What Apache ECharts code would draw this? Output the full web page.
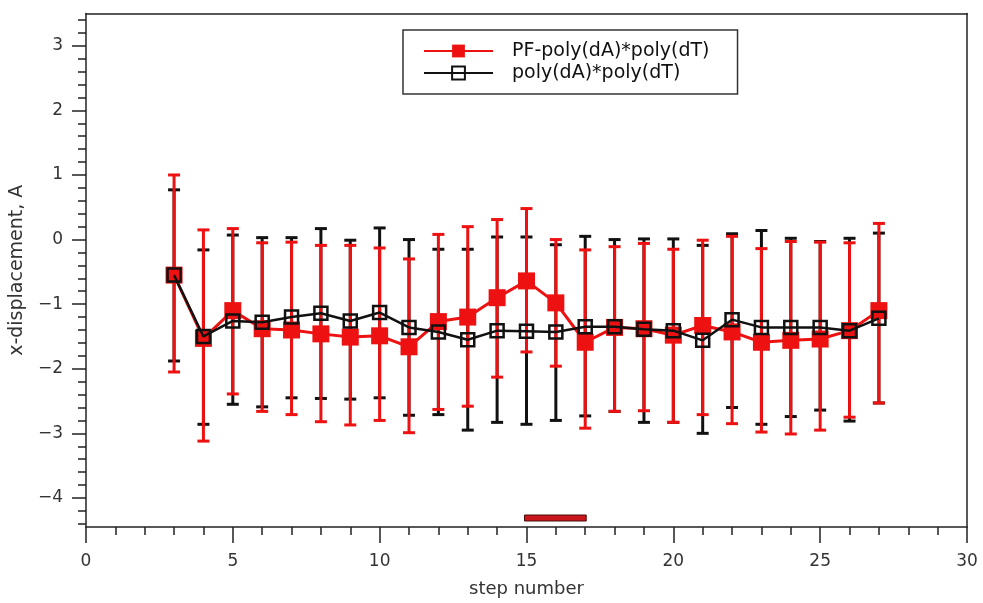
<!DOCTYPE html>
<html>
<head>
<meta charset="utf-8">
<script src="https://cdn.jsdelivr.net/npm/echarts@6/dist/echarts.min.js"></script>
<style>html,body{margin:0;padding:0;background:#fff;}#chart{width:983px;height:603px;}</style>
</head>
<body>
<div id="chart"></div>
<script>
// ---- data ----
const steps = [3,4,5,6,7,8,9,10,11,12,13,14,15,16,17,18,19,20,21,22,23,24,25,26,27];
const pfMean  = [-0.55,-1.53,-1.10,-1.38,-1.40,-1.46,-1.51,-1.49,-1.66,-1.27,-1.20,-0.90,-0.64,-0.98,-1.59,-1.36,-1.38,-1.48,-1.33,-1.43,-1.59,-1.56,-1.54,-1.41,-1.10];
const pfUpper = [1.00,0.15,0.17,-0.05,-0.04,-0.09,-0.09,-0.13,-0.30,0.08,0.20,0.31,0.48,0.00,-0.16,-0.11,-0.06,-0.15,-0.01,0.05,-0.14,-0.03,-0.04,-0.05,0.25];
const pfLower = [-2.05,-3.12,-2.39,-2.66,-2.71,-2.82,-2.87,-2.80,-2.99,-2.63,-2.58,-2.13,-1.74,-1.96,-2.92,-2.66,-2.65,-2.83,-2.71,-2.85,-2.98,-3.01,-2.95,-2.75,-2.53];
const refMean  = [-0.55,-1.50,-1.26,-1.28,-1.20,-1.14,-1.26,-1.13,-1.36,-1.43,-1.55,-1.41,-1.42,-1.43,-1.35,-1.35,-1.39,-1.41,-1.56,-1.24,-1.36,-1.36,-1.36,-1.41,-1.22];
const refUpper = [0.77,-0.16,0.07,0.03,0.03,0.17,-0.01,0.18,0.00,-0.15,-0.15,0.04,0.04,-0.08,0.05,0.00,0.01,0.01,-0.09,0.09,0.14,0.02,-0.03,0.02,0.10];
const refLower = [-1.88,-2.86,-2.55,-2.59,-2.45,-2.46,-2.47,-2.45,-2.72,-2.71,-2.95,-2.83,-2.86,-2.80,-2.73,-2.66,-2.83,-2.83,-3.00,-2.60,-2.86,-2.74,-2.64,-2.81,-2.53];
const highlightSpan = [15, 17];
const xTickLabels = [0,5,10,15,20,25,30];
const yTickLabels = [-4,-3,-2,-1,0,1,2,3];
const yMinorTicks = [];
for (let v = -44; v <= 34; v += 2) yMinorTicks.push(v / 10);

const seriesNames = ['PF-poly(dA)*poly(dT)', 'poly(dA)*poly(dT)'];
const RED = '#ee1111';
const BLACK = '#111111';
const Y_MIN = -4.45, Y_MAX = 3.5;
const FONT = 'DejaVu Sans, sans-serif';

function errRender(color) {
  return function (params, api) {
    const x = api.value(0);
    const top = api.coord([x, api.value(1)]);
    const bot = api.coord([x, api.value(2)]);
    const hw = 6;
    const style = { stroke: color, lineWidth: 3 };
    return {
      type: 'group',
      children: [
        { type: 'line', shape: { x1: top[0], y1: top[1], x2: bot[0], y2: bot[1] }, style },
        { type: 'line', shape: { x1: top[0] - hw, y1: top[1], x2: top[0] + hw, y2: top[1] }, style },
        { type: 'line', shape: { x1: bot[0] - hw, y1: bot[1], x2: bot[0] + hw, y2: bot[1] }, style }
      ]
    };
  };
}

const chart = echarts.init(document.getElementById('chart'), null, { renderer: 'canvas' });
const axisLineStyle = { color: '#222', width: 1.5 };
const tickFont = { fontFamily: FONT, fontSize: 17, color: '#333' };

chart.setOption({
  animation: false,
  backgroundColor: '#fff',
  grid: { left: 85, right: 16, top: 13.5, bottom: 73, containLabel: false },
  legend: {
    orient: 'vertical',
    left: 403,
    top: 30,
    padding: [10, 28, 10, 20],
    itemGap: 0,
    itemWidth: 69,
    itemHeight: 16,
    borderColor: '#333',
    borderWidth: 1.5,
    data: seriesNames,
    textStyle: { fontFamily: FONT, fontSize: 19, lineHeight: 22, color: '#111', padding: [0, 0, 0, 14] }
  },
  xAxis: [
    {
      type: 'value', min: 0, max: 30, interval: 5, position: 'bottom',
      axisLine: { show: true, onZero: false, lineStyle: axisLineStyle },
      axisTick: { show: true, inside: false, length: 16, lineStyle: { color: '#222', width: 1.5 } },
      minorTick: { show: true, splitNumber: 5, length: 8, lineStyle: { color: '#222', width: 1.5 } },
      splitLine: { show: false },
      axisLabel: Object.assign({ margin: 26, formatter: v => xTickLabels.includes(v) ? String(v) : '' }, tickFont),
      name: 'step number', nameLocation: 'middle', nameGap: 53,
      nameTextStyle: { fontFamily: FONT, fontSize: 18, color: '#333' }
    },
    {
      type: 'value', min: 0, max: 30, position: 'top',
      axisLine: { show: true, onZero: false, lineStyle: axisLineStyle },
      axisTick: { show: false }, axisLabel: { show: false }, splitLine: { show: false }
    }
  ],
  yAxis: [
    {
      type: 'value', min: Y_MIN, max: Y_MAX, position: 'left',
      axisLine: { show: true, onZero: false, lineStyle: axisLineStyle },
      axisTick: { show: true, inside: false, length: 14, customValues: yTickLabels, lineStyle: { color: '#222', width: 1.5 } },
      axisLabel: Object.assign({ margin: 23, customValues: yTickLabels, formatter: v => String(v).replace('-', '\u2212') }, tickFont),
      splitLine: { show: false },
      name: 'x-displacement, A', nameLocation: 'middle', nameGap: 45,
      nameTextStyle: { fontFamily: FONT, fontSize: 19, color: '#333' }
    },
    {
      type: 'value', min: Y_MIN, max: Y_MAX, position: 'left',
      axisLine: { show: false, onZero: false },
      axisTick: { show: true, inside: false, length: 8, customValues: yMinorTicks, lineStyle: { color: '#222', width: 1.5 } },
      axisLabel: { show: false }, splitLine: { show: false }
    },
    {
      type: 'value', min: Y_MIN, max: Y_MAX, position: 'right',
      axisLine: { show: true, onZero: false, lineStyle: axisLineStyle },
      axisTick: { show: false }, axisLabel: { show: false }, splitLine: { show: false }
    }
  ],
  series: [
    {
      type: 'custom', name: 'refErr', z: 2, silent: true,
      data: steps.map((s, i) => [s, refUpper[i], refLower[i]]),
      encode: { x: 0, y: [1, 2] },
      renderItem: errRender(BLACK)
    },
    {
      type: 'custom', name: 'pfErr', z: 3, silent: true,
      data: steps.map((s, i) => [s, pfUpper[i], pfLower[i]]),
      encode: { x: 0, y: [1, 2] },
      renderItem: errRender(RED)
    },
    {
      type: 'line', name: seriesNames[0], z: 4,
      data: steps.map((s, i) => [s, pfMean[i]]),
      symbol: 'rect', symbolSize: 17,
      lineStyle: { color: RED, width: 3 },
      itemStyle: { color: RED, borderColor: RED, borderWidth: 0 }
    },
    {
      type: 'line', name: seriesNames[1], z: 5,
      data: steps.map((s, i) => [s, refMean[i]]),
      symbol: 'rect', symbolSize: 13,
      lineStyle: { color: BLACK, width: 2.5 },
      itemStyle: { color: 'rgba(255,255,255,0)', borderColor: BLACK, borderWidth: 2.5 }
    },
    {
      type: 'custom', name: 'span', z: 3, silent: true,
      data: [[highlightSpan[0], highlightSpan[1]]],
      encode: { x: [0, 1] },
      renderItem: function (params, api) {
        const a = api.coord([api.value(0), Y_MIN]);
        const b = api.coord([api.value(1), Y_MIN]);
        return {
          type: 'rect',
          shape: { x: a[0] - 2, y: a[1] - 12, width: b[0] - a[0] + 3, height: 6 },
          style: { fill: '#c8161b', stroke: '#4a0a0a', lineWidth: 1 }
        };
      }
    }
  ]
});
</script>
</body>
</html>
